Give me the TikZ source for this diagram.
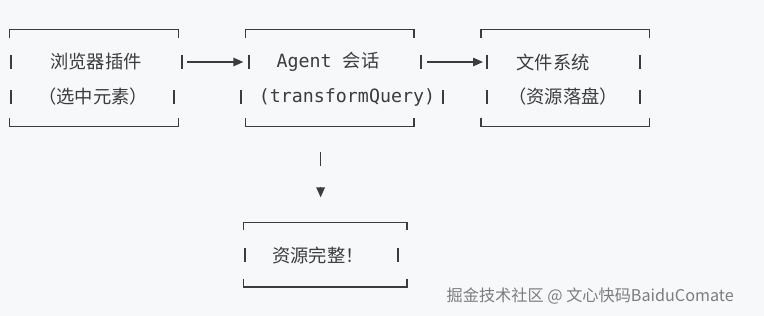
\documentclass[tikz,border=0pt]{standalone}
\usepackage{fontspec}
\setmonofont{DejaVu Sans Mono}
\newfontfamily\cjk{Noto Sans CJK SC}
\usetikzlibrary{arrows.meta, positioning, calc}
\definecolor{pagebg}{HTML}{F7F8FA}
\definecolor{asciiink}{HTML}{3C3C3C}
\definecolor{markgray}{HTML}{7D7D7D}

\begin{document}
\begin{tikzpicture}[
      x=0.025cm, y=-0.025cm,
      box/.style={
        rectangle,
        inner sep=0pt,
        minimum width=4.2cm,
        minimum height=2.4cm
      },
      frame/.style={draw=asciiink, line width=0.9pt},
      arr/.style={-{Triangle[length=7pt, width=6pt]}, line width=0.9pt, draw=asciiink},
      txt/.style={inner sep=0pt, font=\fontsize{13}{16}\selectfont\cjk, text=asciiink},
      note/.style={inner sep=0pt, font=\fontsize{11.5}{14}\selectfont\cjk, text=markgray}
    ]
      \fill[pagebg] (0,0) rectangle (764,316);
      \useasboundingbox (0,0) rectangle (764,316);

      \node[box] (plugin) at (94,78) {};
      \node[box, right=1.675cm of plugin] (agent) {};
      \node[box, right=1.675cm of agent] (fs) {};
      \node[box, minimum width=4.075cm, minimum height=1.6cm,
        below=2.4cm of agent, xshift=-0.1125cm] (done) {};

      \foreach \b in {plugin, agent, fs, done} {
        \draw[frame] ([shift={(0,8)}]\b.north west) -- (\b.north west)
          -- (\b.north east) -- ([shift={(0,8)}]\b.north east);
        \draw[frame] ([shift={(0,-8)}]\b.south west) -- (\b.south west)
          -- (\b.south east) -- ([shift={(0,-8)}]\b.south east);
      }

      \foreach \bx/\by in {11/62, 182/62, 11/97, 174/97,
                           249/62, 421/62, 241/97, 443/97,
                           487/62, 640/62, 487/97, 640/97,
                           245/255, 398/255}
        \draw[frame] (\bx,\by-7) -- (\bx,\by+7);

      \node[txt] (plugtop) at (96,62) {浏览器插件};
      \node[txt] (plugsub) at (93,97) {（选中元素）};
      \node[txt] (agenttop) at (328,62) {{\ttfamily Agent\ }会话};
      \node[txt] (agentsub) at (347,97) {\ttfamily (transformQuery)};
      \node[txt] (fstop) at (553,62) {文件系统};
      \node[txt] (fssub) at (563,97) {（资源落盘）};
      \node[txt] (donetop) at (318,255) {资源完整！};

      \draw[arr] ([shift={(9,-16)}]plugin.east) -- ([shift={(-2,-16)}]agent.west);
      \draw[arr] ([shift={(13,-16)}]agent.east) -- ([shift={(2,-16)}]fs.west);
      \draw[arr] ([shift={(-9,26)}]agent.south) -- ++(0,14)
        ([shift={(-4.5,-35)}]done.north) -- ([shift={(-4.5,-25)}]done.north);

      \node[note, anchor=east] (credit) at (734,296) {掘金技术社区 @ 文心快码BaiduComate};
    \end{tikzpicture}
\end{document}
